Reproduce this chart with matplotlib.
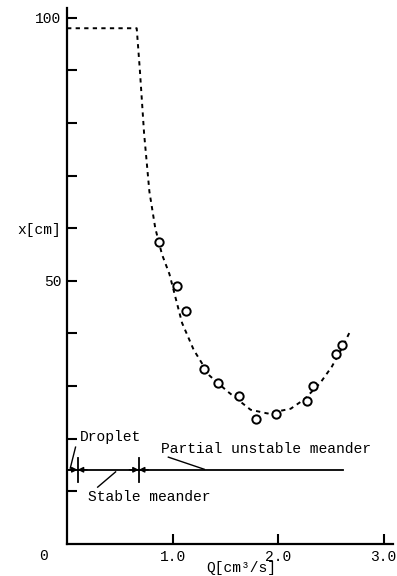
import numpy as np
import matplotlib.pyplot as plt

plt.rcParams['font.family'] = ['Liberation Mono', 'DejaVu Sans Mono']

# measured points: Q [cm^3/s] vs x [cm]
q_pts = [0.87, 1.04, 1.13, 1.30, 1.43, 1.63, 1.79, 1.98, 2.27, 2.33, 2.55, 2.61]
x_pts = [57.3, 49.0, 44.2, 33.3, 30.6, 28.1, 23.7, 24.7, 27.1, 30.0, 36.1, 37.8]

# dashed trend curve
q_curve = [0.0, 0.66, 0.69, 0.73, 0.78, 0.836, 0.9, 0.97, 1.09, 1.2, 1.35, 1.52, 1.74, 1.9, 2.12, 2.25, 2.40, 2.51, 2.60, 2.69]
x_curve = [98.0, 98.0, 90.0, 78.0, 67.0, 60.0, 55.0, 51.3, 42.0, 36.9, 32.0, 29.0, 25.5, 24.8, 25.7, 27.5, 30.6, 33.7, 37.0, 40.7]

# regime boundaries on the bar below
bar_level = 14.1
bar_end = 2.62
bounds = [0.1, 0.68]

fig = plt.figure(figsize=(3.97, 5.76), dpi=100)
ax = fig.add_axes([0.169, 0.0556, 0.821, 0.931])

ax.plot(q_curve, x_curve, color='black', lw=1.4, ls=(0, (2.2, 2.2)))
ax.plot(q_pts, x_pts, 'o', mfc='white', mec='black', ms=6, mew=1.4)

# regime bar
ax.plot([0, bar_end], [bar_level, bar_level], color='black', lw=1.3)
for b in bounds:
    ax.plot([b, b], [11.8, 16.4], color='black', lw=1.3)
    ax.annotate('', xy=(b, bar_level), xytext=(b + 0.09, bar_level),
                arrowprops=dict(arrowstyle='-|>', color='black', lw=1.0,
                                mutation_scale=8, shrinkA=0, shrinkB=0))
    ax.annotate('', xy=(b, bar_level), xytext=(b - 0.09, bar_level),
                arrowprops=dict(arrowstyle='-|>', color='black', lw=1.0,
                                mutation_scale=8, shrinkA=0, shrinkB=0))

# labels with leader lines
ax.text(0.12, 20.3, 'Droplet', fontsize=10.5, va='center', ha='left')
ax.plot([0.08, 0.03], [18.4, 14.4], color='black', lw=1.0)
ax.text(0.89, 18.0, 'Partial unstable meander', fontsize=10.5, va='center', ha='left')
ax.plot([0.96, 1.30], [16.5, 14.2], color='black', lw=1.0)
ax.text(0.2, 8.9, 'Stable meander', fontsize=10.5, va='center', ha='left')
ax.plot([0.29, 0.46], [10.8, 13.7], color='black', lw=1.0)

ax.set_xlim(0, 3.09)
ax.set_ylim(0, 101.9)
for s in ['top', 'right']:
    ax.spines[s].set_visible(False)
for s in ['left', 'bottom']:
    ax.spines[s].set_linewidth(1.6)

ax.set_xticks([1, 2, 3])
ax.set_xticklabels(['1.0', '2.0', '3.0'])
ax.set_yticks(np.arange(10, 101, 10))
ax.set_yticklabels(['' if v not in (50, 60, 100) else ('x[cm]' if v == 60 else str(v))
                    for v in range(10, 101, 10)])
ax.tick_params(direction='in', length=7, width=1.5, labelsize=10.5, pad=4)
ax.text(-0.22, -2.2, '0', fontsize=10.5, ha='center', va='center', clip_on=False)
ax.text(1.65, -4.6, 'Q[cm³/s]', fontsize=10.5, ha='center', va='center', clip_on=False)

fig.savefig('out.png', dpi=100)
